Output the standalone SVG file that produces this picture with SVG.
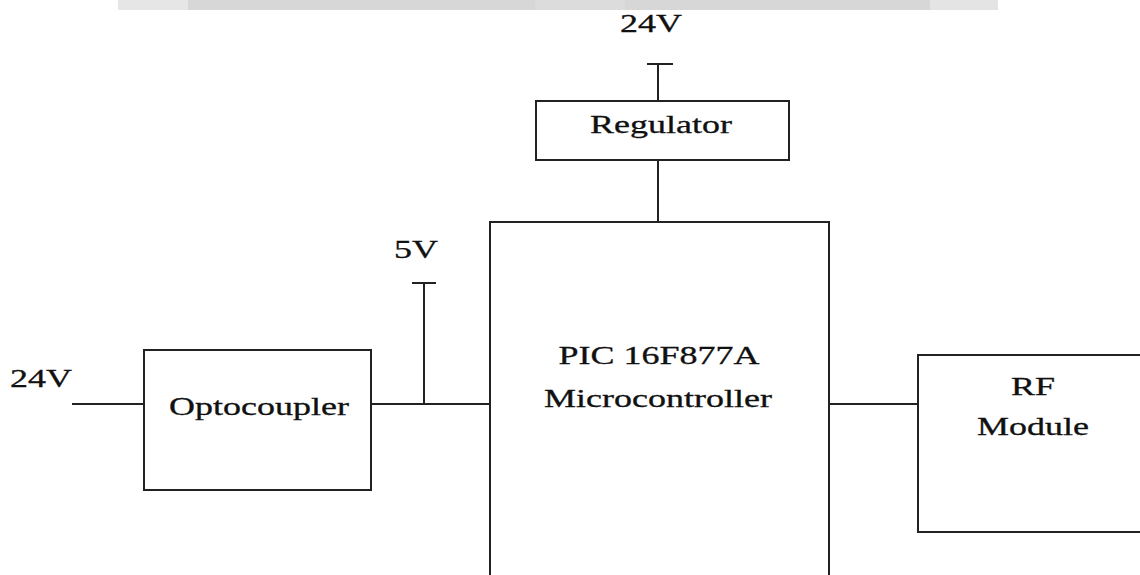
<svg xmlns="http://www.w3.org/2000/svg" width="1140" height="575" viewBox="0 0 1140 575">
<style>
.box{fill:#fff;stroke:#222;stroke-width:2}
.wire{fill:none;stroke:#222;stroke-width:2}
.t{font-family:"Liberation Serif","Times New Roman",serif;font-size:25px;fill:#111;text-anchor:middle;stroke:#111;stroke-width:0.3}
</style>
<rect width="1140" height="575" fill="#fff"/>
<g id="banner">
<rect x="118" y="0" width="880" height="10" fill="#d7d7d7"/>
<rect x="118" y="0" width="70" height="10" fill="#e6e6e6"/>
<rect x="930" y="0" width="68" height="10" fill="#e4e4e4"/>
<rect x="535" y="0" width="90" height="10" fill="#dcdcdc"/>
</g>
<g id="connectors">
<path class="wire" d="M647 64H673M658 64V101"/>
<path class="wire" d="M658 160V222"/>
<path class="wire" d="M72 404H144"/>
<path class="wire" d="M371 404H490"/>
<path class="wire" d="M412 283H436M424 283V404"/>
<path class="wire" d="M829 404H918"/>
</g>
<g id="regulator">
<rect class="box" x="536" y="101" width="253" height="59"/>
<text class="t" transform="translate(661 133) scale(1.44 1)">Regulator</text>
</g>
<g id="microcontroller">
<rect class="box" x="490" y="222" width="339" height="370"/>
<text class="t" transform="translate(659 364) scale(1.44 1)">PIC 16F877A</text>
<text class="t" transform="translate(658 407) scale(1.44 1)">Microcontroller</text>
</g>
<g id="optocoupler">
<rect class="box" x="144" y="350" width="227" height="140"/>
<text class="t" transform="translate(259 415) scale(1.44 1)">Optocoupler</text>
</g>
<g id="rfmodule">
<rect class="box" x="918" y="355" width="240" height="177"/>
<text class="t" transform="translate(1033 395) scale(1.44 1)">RF</text>
<text class="t" transform="translate(1033 435) scale(1.44 1)">Module</text>
</g>
<g id="labels">
<text class="t" transform="translate(651 32) scale(1.44 1)">24V</text>
<text class="t" transform="translate(416 258) scale(1.44 1)">5V</text>
<text class="t" transform="translate(41 387) scale(1.44 1)">24V</text>
</g>
</svg>
